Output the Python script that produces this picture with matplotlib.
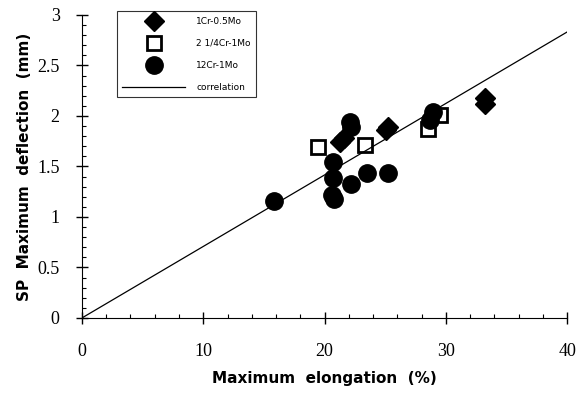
import matplotlib
matplotlib.use("Agg")
import matplotlib.pyplot as plt
from matplotlib.ticker import MultipleLocator, FormatStrFormatter
import numpy as np

# ── data ─────────────────────────────────────────────────────────────────────
cr1_x = [21.3, 21.6, 25.1, 25.2, 33.2, 33.2]
cr1_y = [1.74, 1.78, 1.86, 1.89, 2.18, 2.12]

cr2_x = [19.5, 23.3, 28.5, 29.5]
cr2_y = [1.69, 1.71, 1.87, 2.01]

cr12_x = [15.8, 20.7, 20.7, 20.6, 20.8, 22.2, 23.5, 25.2, 22.1, 22.2, 28.9, 28.7]
cr12_y = [1.16, 1.54, 1.39, 1.22, 1.18, 1.33, 1.44, 1.44, 1.94, 1.89, 2.04, 1.96]

corr_x = [0, 40]
corr_slope = 0.0708

labels = ["1Cr-0.5Mo", "2 1/4Cr-1Mo", "12Cr-1Mo", "correlation"]

# ── figure ───────────────────────────────────────────────────────────────────
fig = plt.figure(figsize=(5.77, 3.94), dpi=100)
ax = fig.add_axes([0.142, 0.193, 0.841, 0.769])

ax.plot(cr1_x, cr1_y, linestyle="none", marker="D", markersize=10,
        color="black", label=labels[0])
ax.plot(cr2_x, cr2_y, linestyle="none", marker="s", markersize=10,
        markerfacecolor="white", markeredgecolor="black", markeredgewidth=2,
        label=labels[1])
ax.plot(cr12_x, cr12_y, linestyle="none", marker="o", markersize=12.5,
        color="black", label=labels[2])
ax.plot(corr_x, [corr_slope * v for v in corr_x], color="black",
        linewidth=0.9, label=labels[3])

ax.set_xlim(0, 40)
ax.set_ylim(0, 3)
ax.xaxis.set_major_locator(MultipleLocator(10))
ax.xaxis.set_minor_locator(MultipleLocator(2))
ax.yaxis.set_major_locator(MultipleLocator(0.5))
ax.yaxis.set_minor_locator(MultipleLocator(0.1))
ax.xaxis.set_major_formatter(FormatStrFormatter("%g"))
ax.yaxis.set_major_formatter(FormatStrFormatter("%g"))
ax.tick_params(which="major", direction="inout", length=8, width=1,
               labelsize=13)
ax.tick_params(axis="x", which="major", pad=14)
ax.tick_params(axis="y", which="major", pad=12)
ax.tick_params(which="minor", direction="in", length=3, width=0.8)
for lab in ax.get_xticklabels() + ax.get_yticklabels():
    lab.set_family("Liberation Serif")
ax.spines["top"].set_visible(False)
ax.spines["right"].set_visible(False)

ax.set_xlabel("Maximum  elongation  (%)", fontsize=11, fontweight="bold",
              labelpad=8)
ax.set_ylabel("SP  Maximum  deflection  (mm)", fontsize=11, fontweight="bold",
              labelpad=4)

leg = ax.legend(loc="upper left", bbox_to_anchor=(0.072, 1.012), fontsize=6.5,
                frameon=True, fancybox=False, edgecolor="black",
                handlelength=7.0, labelspacing=1.45, borderpad=0.6,
                borderaxespad=0, handletextpad=1.2)
leg.get_frame().set_linewidth(0.8)

fig.savefig("out.png", dpi=100)
